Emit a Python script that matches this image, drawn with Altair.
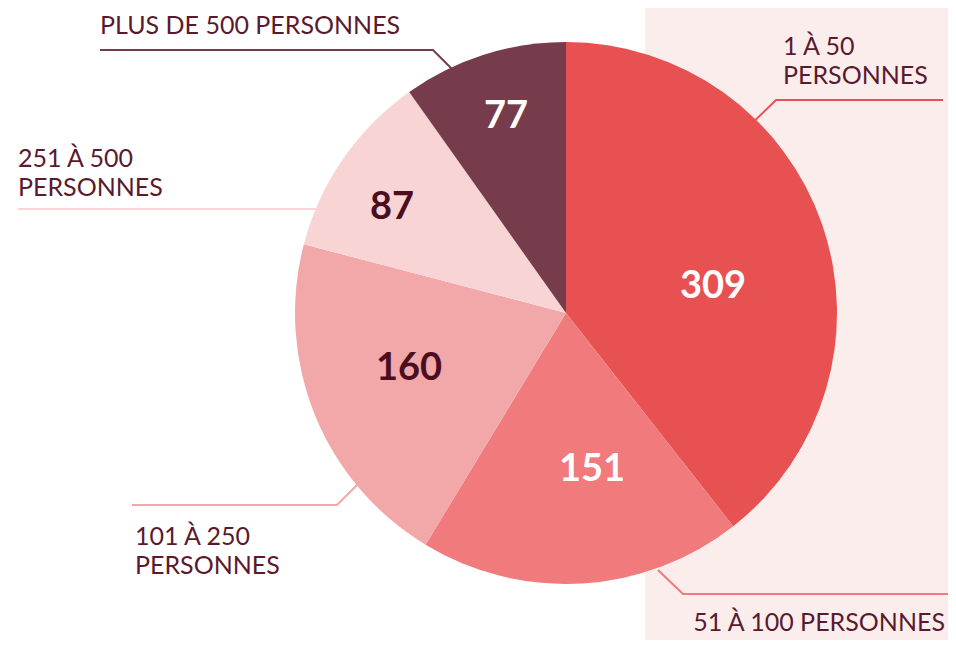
import altair as alt
import pandas as pd

# ---- data ----
categories = ["1 À 50 PERSONNES", "51 À 100 PERSONNES", "101 À 250 PERSONNES",
              "251 À 500 PERSONNES", "PLUS DE 500 PERSONNES"]
values = [309, 151, 160, 87, 77]
label_texts = ["1 À 50\nPERSONNES", "51 À 100 PERSONNES", "101 À 250\nPERSONNES",
               "251 À 500\nPERSONNES", "PLUS DE 500 PERSONNES"]
colors = ["#E85151", "#F07A7C", "#F2A7A8", "#F9D4D5", "#763C4C"]
number_colors = ["white", "white", "#4A0E1E", "#4A0E1E", "white"]

# ---- layout (chart pixel coordinates) ----
W, H = 940, 632
CX, CY, R = 558, 305, 271
num_pos = [(705, 279), (584, 462), (401, 361), (384, 200), (498, 109)]
lab_pos = [(775, 47), (937, 623), (127, 537), (10, 159), (92, 26)]
lab_align = ["left", "right", "left", "left", "left"]
leaders = [
    [(935, 92), (768, 92), (730, 129)],
    [(650, 562), (675, 586), (945, 586)],
    [(124, 497), (329, 497), (367, 459)],
    [(10, 201), (347, 201)],
    [(92, 42), (425, 42), (463, 80)],
]

scale_x = alt.Scale(domain=[0, W], range=[0, W], nice=False, zero=False)
scale_y = alt.Scale(domain=[0, H], range=[0, H], nice=False, zero=False)
cscale = alt.Scale(domain=categories, range=colors)

bg = alt.Chart(pd.DataFrame({"x": [637], "x2": [W], "y": [0], "y2": [H]})).mark_rect(
    color="#FCEDED").encode(
    x=alt.X("x:Q", scale=scale_x, axis=None), x2="x2:Q",
    y=alt.Y("y:Q", scale=scale_y, axis=None), y2="y2:Q")

pie_df = pd.DataFrame({"cat": categories, "value": values, "order": list(range(5))})
pie = alt.Chart(pie_df).mark_arc(radius=R).encode(
    theta=alt.Theta("value:Q", stack=True),
    order=alt.Order("order:Q"),
    color=alt.Color("cat:N", scale=cscale, legend=None),
    x=alt.value(CX), y=alt.value(CY))

num_df = pd.DataFrame({
    "value": values,
    "x": [p[0] for p in num_pos], "y": [p[1] for p in num_pos],
    "tc": number_colors})
nums_w = alt.Chart(num_df[num_df.tc == "white"]).mark_text(
    font="Lato", fontWeight="bold", fontSize=38, color="white",
    align="center", baseline="middle").encode(
    x=alt.X("x:Q", scale=scale_x), y=alt.Y("y:Q", scale=scale_y), text="value:Q")
nums_d = alt.Chart(num_df[num_df.tc != "white"]).mark_text(
    font="Lato", fontWeight="bold", fontSize=38, color="#4A0E1E",
    align="center", baseline="middle").encode(
    x=alt.X("x:Q", scale=scale_x), y=alt.Y("y:Q", scale=scale_y), text="value:Q")

rows = []
for cat, pts in zip(categories, leaders):
    for i, (px, py) in enumerate(pts):
        rows.append({"cat": cat, "i": i, "x": px, "y": py})
lead_df = pd.DataFrame(rows)
lines = alt.Chart(lead_df).mark_line(strokeWidth=2).encode(
    x=alt.X("x:Q", scale=scale_x), y=alt.Y("y:Q", scale=scale_y),
    detail="cat:N", order="i:Q",
    color=alt.Color("cat:N", scale=cscale, legend=None))

lab_df = pd.DataFrame({"t": label_texts, "al": lab_align,
                       "x": [p[0] for p in lab_pos], "y": [p[1] for p in lab_pos]})
lab_layers = []
for al in ["left", "right"]:
    lab_layers.append(alt.Chart(lab_df[lab_df.al == al]).mark_text(
        font="Lato", fontSize=25, color="#5A1A2E", align=al, baseline="alphabetic",
        lineBreak="\n", lineHeight=29).encode(
        x=alt.X("x:Q", scale=scale_x), y=alt.Y("y:Q", scale=scale_y), text="t:N"))

chart = alt.layer(bg, pie, lines, nums_w, nums_d, *lab_layers).properties(
    width=W, height=H, padding=0, autosize=alt.AutoSizeParams(type="none")
).configure_view(stroke=None)

chart.save("out.html", embed_options={"renderer": "svg", "actions": False})
